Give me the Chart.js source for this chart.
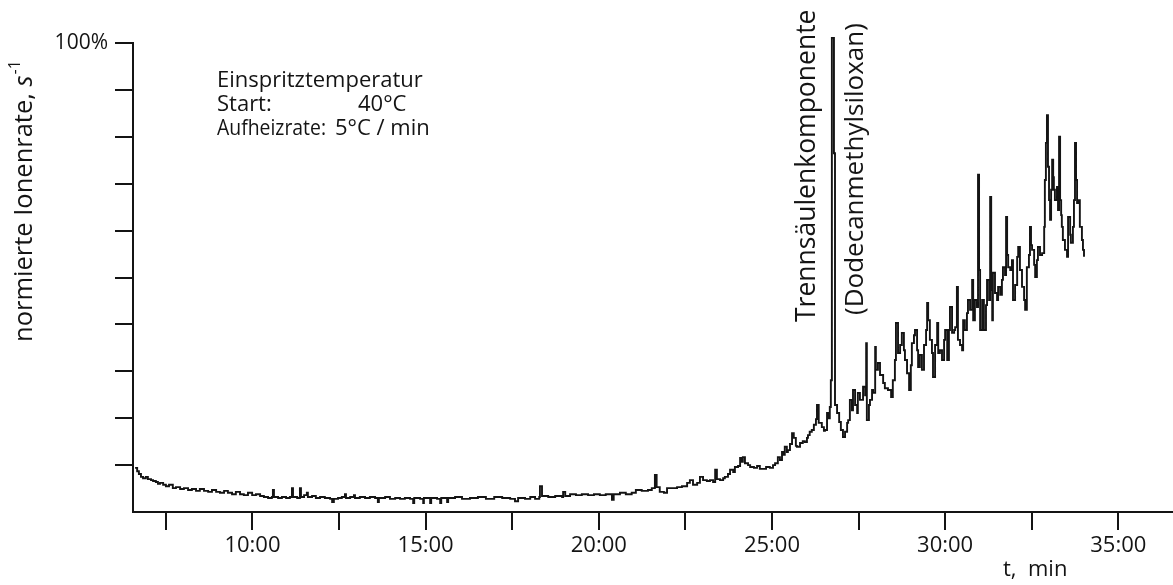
<!DOCTYPE html>
<html>
<head>
<meta charset="utf-8">
<script src="https://cdn.jsdelivr.net/npm/chart.js@4.4.1/dist/chart.umd.min.js"></script>
<style>
  html, body { margin: 0; padding: 0; background: #ffffff; }
  canvas { display: block; }
</style>
</head>
<body>
<canvas id="chart" width="1173" height="585" style="width:1173px;height:585px"></canvas>
<script>
// Ion count rate (percent of maximum) against retention time in minutes, [t, rate]

// slow decay after injection
const startDrift = [
  [6.61, 9.4], [6.67, 8.7], [6.72, 8.1], [6.78, 7.5], [6.84, 7.2], [6.92, 7.5], [6.98, 7.0],
  [7.07, 6.8], [7.13, 6.6], [7.21, 6.4], [7.27, 6.0], [7.33, 6.2], [7.42, 5.8], [7.50, 5.5],
  [7.59, 5.8], [7.70, 5.1], [7.79, 5.3], [7.91, 4.9], [8.02, 5.1], [8.14, 4.7], [8.25, 4.9],
  [8.37, 4.5], [8.48, 4.9], [8.60, 4.5], [8.72, 4.3], [8.83, 4.7], [8.95, 4.3], [9.06, 4.1],
  [9.18, 4.5], [9.29, 4.1], [9.41, 3.8], [9.52, 4.3], [9.64, 3.8], [9.75, 3.6], [9.87, 4.1],
  [9.99, 3.6], [10.10, 3.8], [10.22, 3.4], [10.33, 3.2], [10.45, 3.0]
];

// flat baseline with small spikes
const baseline = [
  [10.56, 3.2], [10.59, 4.7], [10.62, 3.2], [10.74, 3.0], [10.85, 3.2], [10.97, 3.0], [11.08, 3.2],
  [11.14, 5.1], [11.17, 3.2], [11.29, 3.0], [11.37, 5.1], [11.40, 3.2], [11.49, 3.6], [11.57, 4.1],
  [11.60, 3.2], [11.72, 3.4], [11.83, 3.0], [11.95, 3.2], [12.09, 3.0], [12.24, 2.8], [12.30, 2.1],
  [12.35, 2.8], [12.47, 3.0], [12.58, 3.2], [12.67, 3.8], [12.70, 3.0], [12.82, 3.2], [12.93, 3.6],
  [12.96, 3.0], [13.10, 3.2], [13.25, 3.0], [13.39, 3.2], [13.54, 3.0], [13.62, 2.1], [13.65, 3.0],
  [13.83, 3.2], [13.97, 2.8], [14.12, 3.0], [14.26, 2.8], [14.40, 3.0], [14.55, 2.8],
  [14.64, 1.9], [14.67, 3.0], [14.84, 2.8], [14.93, 1.9], [14.95, 3.0], [15.13, 1.9], [15.16, 3.0],
  [15.33, 2.8], [15.42, 1.9], [15.45, 3.0], [15.62, 2.1], [15.65, 3.0], [15.85, 3.2], [16.05, 2.8],
  [16.28, 3.0], [16.51, 3.2], [16.74, 2.8], [16.98, 3.2], [17.21, 3.0], [17.44, 2.8], [17.58, 2.3],
  [17.67, 3.0], [17.87, 2.8], [18.02, 3.2], [18.16, 2.8], [18.28, 3.2], [18.30, 5.5], [18.36, 3.4],
  [18.54, 3.2], [18.74, 3.4], [18.94, 3.2], [18.97, 4.3], [19.03, 3.4], [19.17, 3.8], [19.34, 3.6],
  [19.51, 3.8], [19.69, 3.6], [19.86, 3.8], [20.03, 3.6], [20.20, 3.8], [20.38, 2.6], [20.43, 3.8],
  [20.61, 4.1], [20.78, 3.8], [20.95, 4.1], [21.07, 4.7], [21.24, 4.5], [21.42, 4.7], [21.53, 5.1],
  [21.62, 7.9], [21.67, 5.3], [21.76, 4.3], [21.88, 4.1]
];

// rising background as the oven heats up
const rise = [
  [21.97, 5.1], [22.11, 5.1], [22.26, 5.3], [22.40, 5.5], [22.55, 6.2], [22.63, 6.8], [22.72, 5.8],
  [22.84, 6.2], [22.92, 7.5], [23.01, 6.8], [23.12, 6.6], [23.21, 6.8], [23.30, 6.4], [23.36, 9.0],
  [23.41, 7.0], [23.50, 6.8], [23.59, 7.2], [23.64, 7.5], [23.73, 8.1], [23.79, 9.0], [23.88, 8.5],
  [23.93, 9.6], [24.02, 9.8], [24.08, 11.5], [24.13, 10.7], [24.16, 11.7], [24.22, 10.4], [24.31, 10.0],
  [24.37, 9.6], [24.48, 9.4], [24.57, 9.8], [24.65, 9.2], [24.74, 9.2], [24.83, 9.6], [24.94, 9.4],
  [25.03, 10.0], [25.09, 10.4], [25.17, 11.7], [25.23, 11.1], [25.29, 12.8], [25.34, 12.2], [25.37, 13.9],
  [25.43, 12.8], [25.46, 13.2], [25.52, 14.5], [25.58, 16.8], [25.63, 15.8], [25.69, 14.1], [25.72, 13.9],
  [25.81, 14.7], [25.89, 15.1], [25.95, 14.9], [26.01, 15.8], [26.04, 16.4], [26.09, 17.1], [26.15, 17.5],
  [26.21, 18.6], [26.27, 19.8], [26.30, 22.8], [26.35, 19.0], [26.44, 18.1], [26.50, 17.3], [26.53, 17.5],
  [26.59, 21.1], [26.64, 20.0], [26.67, 22.4], [26.70, 28.1]
];

// column bleed peak (dodecamethylsiloxane)
const columnPeak = [
  [26.73, 101.1], [26.79, 76.5], [26.82, 22.8], [26.88, 21.1], [26.94, 19.2], [26.99, 17.5], [27.05, 16.0],
  [27.11, 17.1], [27.17, 19.0], [27.20, 19.6], [27.25, 23.9], [27.31, 21.7], [27.34, 26.0], [27.40, 22.8],
  [27.46, 21.1], [27.48, 25.4], [27.54, 23.9], [27.63, 26.7], [27.69, 24.9], [27.72, 36.0], [27.74, 19.6],
  [27.80, 22.8], [27.83, 23.9], [27.89, 26.0], [27.92, 25.4]
];

// noisy high-temperature tail
const tail = [
  [27.98, 35.2], [28.00, 30.3], [28.06, 31.8], [28.12, 29.2], [28.21, 27.5], [28.26, 26.4], [28.35, 26.0],
  [28.44, 24.5], [28.49, 28.1], [28.55, 32.4], [28.58, 40.3], [28.64, 33.9], [28.70, 35.6], [28.75, 38.2],
  [28.81, 34.5], [28.84, 32.4], [28.90, 29.6], [28.96, 26.0], [29.01, 31.3], [29.04, 36.0], [29.10, 37.7],
  [29.13, 38.8], [29.19, 34.5], [29.22, 30.9], [29.27, 33.5], [29.33, 30.3], [29.39, 35.6], [29.45, 38.8],
  [29.48, 44.6], [29.51, 40.9], [29.56, 36.7], [29.62, 33.9], [29.65, 28.8], [29.71, 35.6], [29.77, 40.3],
  [29.80, 33.9], [29.85, 34.5], [29.91, 32.4], [29.97, 36.7], [30.00, 38.8], [30.06, 32.4], [30.11, 38.8],
  [30.14, 43.7], [30.20, 38.2], [30.26, 38.8], [30.29, 39.4], [30.34, 48.0], [30.37, 36.7], [30.43, 35.6],
  [30.49, 34.5], [30.52, 40.9], [30.57, 38.8], [30.63, 42.4], [30.66, 45.2], [30.72, 43.1], [30.78, 49.5],
  [30.81, 40.9], [30.86, 45.2], [30.92, 43.7], [30.95, 71.9], [30.98, 51.6], [31.01, 38.8], [31.07, 45.2],
  [31.12, 38.8], [31.18, 44.1], [31.21, 49.5], [31.27, 45.2], [31.30, 67.2], [31.33, 47.3], [31.36, 40.9],
  [31.38, 51.0], [31.44, 46.7], [31.50, 45.2], [31.53, 48.0], [31.59, 46.3], [31.64, 49.5], [31.67, 52.2],
  [31.73, 50.5], [31.76, 62.9], [31.79, 54.8], [31.82, 52.2], [31.88, 51.6], [31.93, 53.7], [31.96, 45.2],
  [32.02, 48.4], [32.08, 54.4], [32.11, 56.5], [32.16, 51.6], [32.22, 48.0], [32.28, 45.2], [32.31, 43.1],
  [32.36, 52.2], [32.42, 54.8], [32.45, 60.8], [32.48, 56.9], [32.51, 55.9], [32.57, 52.7], [32.60, 50.1],
  [32.65, 53.7], [32.68, 56.5], [32.74, 54.8], [32.80, 55.2], [32.86, 60.8], [32.88, 70.8], [32.91, 78.7],
  [32.94, 84.6], [32.97, 73.6], [33.00, 66.5], [33.03, 62.3], [33.06, 68.7], [33.09, 75.1], [33.12, 71.4],
  [33.14, 68.7], [33.17, 66.5], [33.23, 69.3], [33.26, 64.4], [33.29, 80.0], [33.32, 66.5], [33.35, 63.3],
  [33.37, 60.8], [33.40, 58.0], [33.46, 55.9], [33.52, 54.4], [33.55, 62.9], [33.61, 59.1], [33.63, 57.4],
  [33.69, 60.8], [33.72, 66.5], [33.75, 78.7], [33.78, 70.8], [33.81, 65.9], [33.84, 66.5], [33.89, 60.8],
  [33.95, 58.0], [33.98, 55.9], [34.01, 54.4]
];

// axis ticks
const timeTicks = [7.5, 10, 12.5, 15, 17.5, 20, 22.5, 25, 27.5, 30, 32.5, 35];
const rateTicks = [0, 10, 20, 30, 40, 50, 60, 70, 80, 90, 100];

const INK = '#141414';
const FONT = '"Open Sans", "Noto Sans", "DejaVu Sans", sans-serif';

const trace = [].concat(startDrift, baseline, rise, columnPeak, tail).map(([t, r]) => ({ x: t, y: r }));

// annotations: injection conditions, peak label, axis titles
const annotations = {
  id: 'annotations',
  afterDraw(chart) {
    const ctx = chart.ctx;
    ctx.save();
    ctx.fillStyle = INK;
    ctx.textAlign = 'left';
    ctx.textBaseline = 'alphabetic';

    ctx.font = `22px ${FONT}`;
    ctx.fillText('Einspritztemperatur', 217, 87);
    ctx.fillText('Start:', 217, 111, 60);
    ctx.fillText('40°C', 358, 111);
    ctx.fillText('Aufheizrate:', 217, 135, 109);
    ctx.fillText('5°C / min', 335, 135, 122);

    ctx.fillText('t,  min', 1003, 576);

    const vertical = (text, x, y, size) => {
      ctx.save();
      ctx.translate(x, y);
      ctx.rotate(-Math.PI / 2);
      ctx.font = `${size}px ${FONT}`;
      ctx.fillText(text, 0, 0);
      ctx.restore();
    };
    vertical('Trennsäulenkomponente', 815, 322, 26.5);
    vertical('(Dodecanmethylsiloxan)', 863, 315, 26);

    // y axis title with italic s and superscript exponent
    ctx.save();
    ctx.translate(32, 342);
    ctx.rotate(-Math.PI / 2);
    ctx.font = `25.5px ${FONT}`;
    const head = 'normierte Ionenrate, ';
    ctx.fillText(head, 0, 0);
    let w = ctx.measureText(head).width;
    ctx.font = `italic 25.5px ${FONT}`;
    ctx.fillText('s', w, 0);
    w += ctx.measureText('s').width + 1;
    ctx.font = `16px ${FONT}`;
    ctx.fillText('-1', w, -12);
    ctx.restore();

    ctx.restore();
  }
};

function draw() {
  new Chart(document.getElementById('chart'), {
    type: 'line',
    data: {
      datasets: [{
        data: trace,
        borderColor: INK,
        borderWidth: 1.9,
        pointRadius: 0,
        stepped: true,
        fill: false,
        clip: false
      }]
    },
    options: {
      responsive: false,
      animation: false,
      devicePixelRatio: 1,
      layout: { padding: { top: 43, left: 0, right: 0, bottom: 0 } },
      plugins: { legend: { display: false }, tooltip: { enabled: false } },
      scales: {
        x: {
          type: 'linear',
          min: 6.55,
          max: 36.58,
          afterBuildTicks: (s) => { s.ticks = timeTicks.map((v) => ({ value: v })); },
          afterFit: (s) => { s.height = 73; },
          grid: { drawOnChartArea: false, drawTicks: true, tickLength: 18, color: INK, lineWidth: 2 },
          border: { display: true, color: INK, width: 2 },
          ticks: {
            autoSkip: false,
            maxRotation: 0,
            padding: 3,
            color: INK,
            font: { family: FONT, size: 22 },
            callback: (v) => (v % 5 === 0 ? `${v}:00` : '')
          }
        },
        y: {
          type: 'linear',
          min: 0,
          max: 100,
          afterBuildTicks: (s) => { s.ticks = rateTicks.map((v) => ({ value: v })); },
          afterFit: (s) => { s.width = 133; },
          grid: {
            drawOnChartArea: false,
            drawTicks: true,
            tickLength: 18,
            lineWidth: 2,
            color: (c) => (c.tick && c.tick.value === 0 ? 'rgba(0,0,0,0)' : INK)
          },
          border: { display: true, color: INK, width: 2 },
          ticks: {
            padding: 7,
            color: INK,
            font: { family: FONT, size: 21 },
            callback: (v) => (v === 100 ? '100%' : '')
          }
        }
      }
    },
    plugins: [annotations]
  });
}

if (document.fonts && document.fonts.load) {
  Promise.all([
    document.fonts.load(`22px "Open Sans"`),
    document.fonts.load(`italic 24px "Open Sans"`)
  ]).then(draw, draw);
} else {
  draw();
}
</script>
</body>
</html>
